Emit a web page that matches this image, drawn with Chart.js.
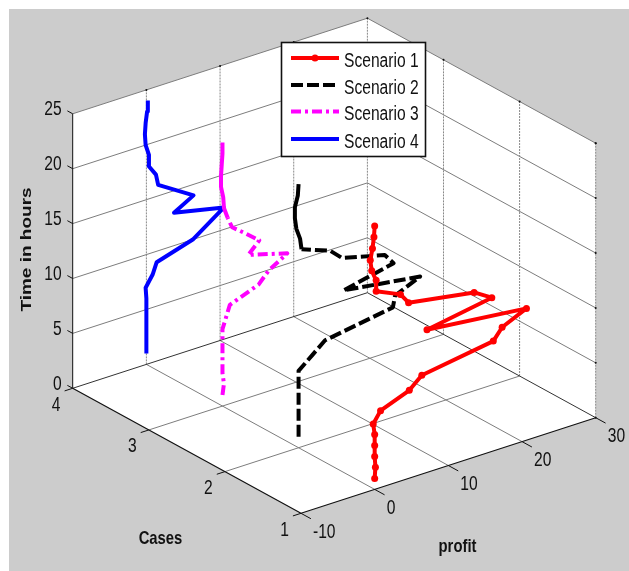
<!DOCTYPE html>
<html>
<head>
<meta charset="utf-8">
<title>Scenarios</title>
<script src="https://cdn.jsdelivr.net/npm/chart.js@4"></script>
<style>
  html, body { margin: 0; padding: 0; background: #fff; }
  canvas { display: block; }
</style>
</head>
<body>
<canvas id="chart3d" width="629" height="571"></canvas>
<script>
const scenarioNames = ["Scenario 1", "Scenario 2", "Scenario 3", "Scenario 4"];
const scenarioCases = [1, 2, 3, 4];
const hours = [1, 2, 3, 4, 5, 6, 7, 8, 9, 10, 11, 12, 13, 14, 15, 16, 17, 18, 19, 20, 21, 22, 23, 24];

const profit1 = [0, 0.1, 0, 0, 0, -0.2, 0.8, 4.7, 6.4, 16.1, 17.3, 20.6, 7.1, 15.9, 13.5, 4.6, 3.5, 0.2, 0.2, -0.4, -0.6, -0.3, -0.1, 0];
const profit2 = [0, 0, 0, 0, 0, 0, 0, 1.8, 3.6, 12.8, 13.1, 16.5, 6.1, 12.9, 11.7, 5.9, 4.3, 0.4, 0.2, -0.3, -0.5, -0.5, -0.1, 0];
const profit3 = [0, 0.2, 0, 0, 0, 0, 0, 0.5, 1, 4.9, 6.3, 8.8, 3.5, 5, 3.2, 1.3, 0.7, 0.2, 0.1, -0.2, -0.2, -0.1, 0, 0];
const profit4 = [0, 0, 0, 0, 0, 0, -0.1, 0.85, 1.4, 6.3, 8.4, 10.5, 3.75, 6.4, 4, 1.6, 1.3, 0.3, 0.35, -0.1, -0.2, -0.1, 0.1, 0.2];
const scenarioProfits = [profit1, profit2, profit3, profit4];

const profitTicks = [-10, 0, 10, 20, 30];
const caseTicks = [1, 2, 3, 4];
const hourTicks = [0, 5, 10, 15, 20, 25];

const scenarioColors = ["#ff0000", "#000000", "#ff00ff", "#0000ff"];
const scenarioDashes = [[], [12, 4], [10, 4, 3, 4], []];
// the dashes close up where the points lie near each other, at the top of the lines
const solidFrom = [0, 17, 16, 0];

// the view of the 3d box, found by measuring the corners
const front = { x: 301, y: 513.3 };
const profitStep = { x: 7.3675, y: -2.39 };
const caseStep = { x: -76.1, y: -41.67 };
const hourStep = -10.98;

function project(p, c, h) {
  return {
    x: front.x + (p + 10) * profitStep.x + (c - 1) * caseStep.x,
    y: front.y + (p + 10) * profitStep.y + (c - 1) * caseStep.y + h * hourStep,
  };
}

function lineSet(points, color, width, dash) {
  return {
    data: points,
    borderColor: color,
    borderWidth: width,
    borderDash: dash || [],
    borderJoinStyle: "round",
    pointRadius: 0,
    tension: 0,
    showLine: true,
    fill: false,
  };
}

const datasets = [];

scenarioNames.forEach((name, i) => {
  const set = lineSet(
    hours.map((h, j) => project(scenarioProfits[i][j], scenarioCases[i], h)),
    scenarioColors[i],
    4,
    scenarioDashes[i],
  );
  set.label = name;
  if (solidFrom[i] > 0) {
    set.segment = {
      borderDash: (c) => (c.p0DataIndex >= solidFrom[i] ? [] : undefined),
    };
  }
  if (i === 0) {
    set.pointRadius = 3.5;
    set.pointBackgroundColor = scenarioColors[i];
    set.pointBorderWidth = 0;
  }
  datasets.push(set);
});

const axisColor = "#111";
const gridColor = "#7d7d7d";
const vertColor = "#888";

// axis lines + tick marks
datasets.push(lineSet([project(-10, 4, 0), project(-10, 1, 0), project(30, 1, 0)], axisColor, 1.2));
datasets.push(lineSet([project(-10, 4, 0), project(-10, 4, 25)], axisColor, 1));
profitTicks.forEach((p) => {
  datasets.push(lineSet([project(p, 1, 0), project(p, 0.87, 0)], axisColor, 1));
});
caseTicks.forEach((c) => {
  datasets.push(lineSet([project(-10, c, 0), project(-11.1, c, 0)], axisColor, 1));
});
hourTicks.forEach((h) => {
  datasets.push(lineSet([project(-10, 4, h), project(-10, 4.07, h)], axisColor, 1));
});

// small dark ends on the far side of the walls
const wallEnds = profitTicks.slice(1).map((p) => project(p, 4, 25))
  .concat(caseTicks.slice(0, 3).map((c) => project(30, c, 25)))
  .concat(hourTicks.map((h) => project(30, 1, h)));
const endsSet = lineSet(wallEnds, "#111", 0);
endsSet.showLine = false;
endsSet.pointRadius = 1;
endsSet.pointBackgroundColor = "#111";
endsSet.pointBorderWidth = 0;
datasets.push(endsSet);

// floor, walls
datasets.push(lineSet([project(-10, 4, 0), project(30, 4, 0), project(30, 1, 0)], "#333", 1));
profitTicks.slice(1, 4).forEach((p) => {
  datasets.push(lineSet([project(p, 1, 0), project(p, 4, 0)], gridColor, 1));
  datasets.push(lineSet([project(p, 4, 0), project(p, 4, 25)], vertColor, 1, [2, 1]));
});
caseTicks.slice(1, 3).forEach((c) => {
  datasets.push(lineSet([project(-10, c, 0), project(30, c, 0)], gridColor, 1));
});
caseTicks.slice(0, 3).forEach((c) => {
  datasets.push(lineSet([project(30, c, 0), project(30, c, 25)], vertColor, 1, [2, 1]));
});
datasets.push(lineSet([project(30, 4, 0), project(30, 4, 25)], vertColor, 1, [2, 1]));
hourTicks.slice(1).forEach((h) => {
  datasets.push(lineSet([project(-10, 4, h), project(30, 4, h), project(30, 1, h)], gridColor, 1));
});

const xAt = (chart, v) => chart.scales.x.getPixelForValue(v);
const yAt = (chart, v) => chart.scales.y.getPixelForValue(v);

// the picture is squeezed sideways, so text gets a horizontal scale
function squeezedText(ctx, text, x, y, font, align, angle) {
  ctx.save();
  ctx.translate(x, y);
  ctx.scale(0.78, 1);
  if (angle) ctx.rotate(angle);
  ctx.font = font;
  ctx.fillStyle = "#111";
  ctx.textAlign = align;
  ctx.textBaseline = "middle";
  ctx.fillText(text, 0, 0);
  ctx.restore();
}

const panelPlugin = {
  id: "panel",
  beforeDatasetsDraw(chart) {
    const ctx = chart.ctx;
    ctx.save();
    ctx.fillStyle = "#fff";
    ctx.fillRect(0, 0, 629, 571);
    ctx.fillStyle = "#cccccc";
    ctx.fillRect(9, 9, 620, 562);
    const outline = [project(-10, 4, 0), project(-10, 4, 25), project(30, 4, 25), project(30, 1, 25), project(30, 1, 0), project(-10, 1, 0)];
    ctx.fillStyle = "#fff";
    ctx.beginPath();
    outline.forEach((pt, i) => {
      if (i === 0) ctx.moveTo(xAt(chart, pt.x), yAt(chart, pt.y));
      else ctx.lineTo(xAt(chart, pt.x), yAt(chart, pt.y));
    });
    ctx.closePath();
    ctx.fill();
    ctx.restore();
  },
  afterDatasetsDraw(chart) {
    const ctx = chart.ctx;
    const tickFont = "20px 'Liberation Sans'";
    const titleFont = "bold 19px 'Liberation Sans'";

    hourTicks.forEach((h) => {
      const pt = project(-10, 4, h);
      squeezedText(ctx, String(h), xAt(chart, pt.x) - 11, yAt(chart, pt.y) - 4, tickFont, "right");
    });
    caseTicks.forEach((c) => {
      const pt = project(-10, c, 0);
      squeezedText(ctx, String(c), xAt(chart, pt.x) - 16.5, yAt(chart, pt.y) + 17, tickFont, "center");
    });
    profitTicks.forEach((p) => {
      const pt = project(p, 1, 0);
      squeezedText(ctx, String(p), xAt(chart, pt.x) + 12, yAt(chart, pt.y) + 19, tickFont, "left");
    });

    squeezedText(ctx, "Cases", 160.5, 539, titleFont, "center");
    squeezedText(ctx, "profit", 457.5, 547, titleFont, "center");
    squeezedText(ctx, "Time in hours", 27, 249.5, titleFont, "center", -Math.PI / 2);

    // legend
    ctx.save();
    ctx.fillStyle = "#fff";
    ctx.fillRect(281.5, 42.5, 144, 114);
    ctx.strokeStyle = "#111";
    ctx.lineWidth = 1.6;
    ctx.strokeRect(281.5, 42.5, 144, 114);
    const rows = [58, 85, 111.5, 139];
    scenarioNames.forEach((name, i) => {
      ctx.beginPath();
      ctx.strokeStyle = scenarioColors[i];
      ctx.lineWidth = 4;
      ctx.setLineDash(scenarioDashes[i]);
      ctx.moveTo(291, rows[i]);
      ctx.lineTo(339, rows[i]);
      ctx.stroke();
      ctx.setLineDash([]);
      if (i === 0) {
        ctx.beginPath();
        ctx.fillStyle = scenarioColors[0];
        ctx.arc(315, rows[i], 3.5, 0, Math.PI * 2);
        ctx.fill();
      }
      squeezedText(ctx, name, 344, rows[i] + 3, tickFont, "left");
    });
    ctx.restore();
  },
};

const ctx = document.getElementById("chart3d").getContext("2d");
const chart3d = new Chart(ctx, {
  type: "scatter",
  data: { datasets: datasets },
  options: {
    responsive: false,
    animation: false,
    layout: { padding: 0, autoPadding: false },
    plugins: { legend: { display: false }, tooltip: { enabled: false } },
    scales: {
      x: { type: "linear", display: false, min: 0, max: 629 },
      y: { type: "linear", display: false, min: 0, max: 571, reverse: true },
    },
  },
  plugins: [panelPlugin],
});
</script>
</body>
</html>
